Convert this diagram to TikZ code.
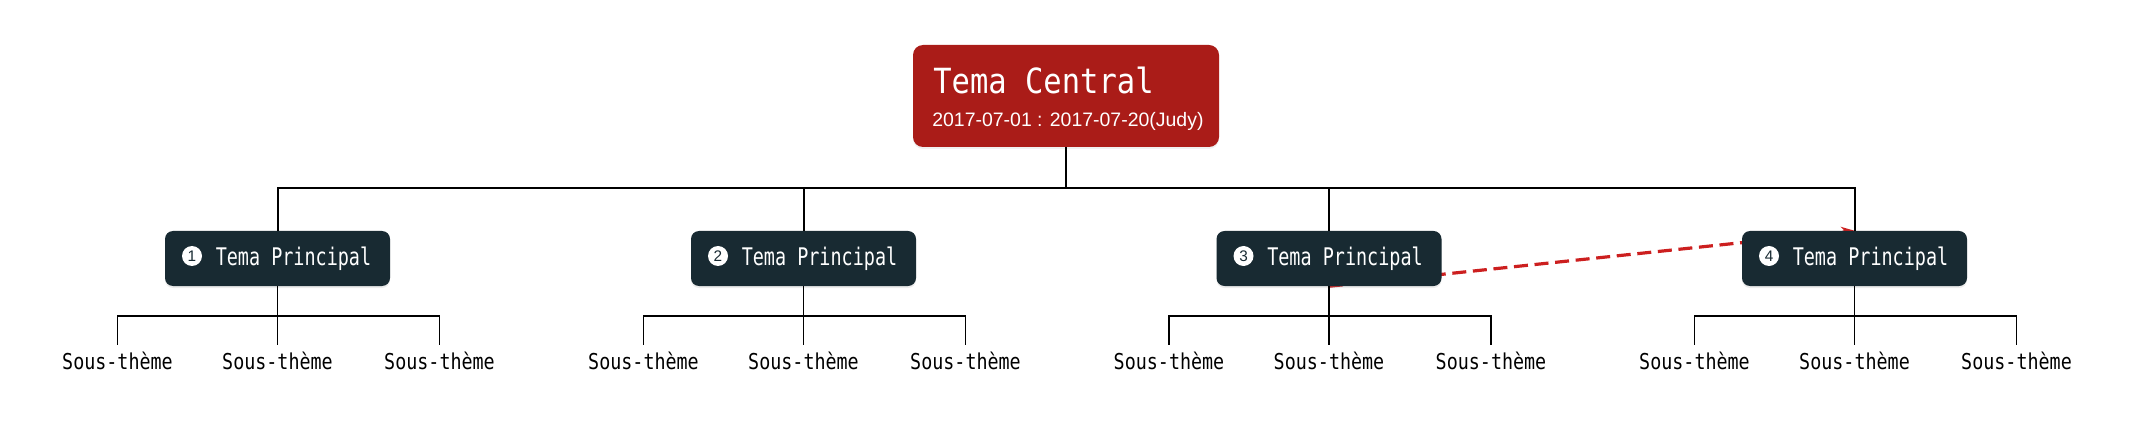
\documentclass[tikz,border=0pt]{standalone}
\usepackage{fontspec}
\setmainfont{Liberation Sans}
\newfontfamily\topicfont[FakeStretch=0.76]{DejaVu Sans Mono}
\newfontfamily\subfont[FakeStretch=0.84]{DejaVu Sans Mono}
\newfontfamily\centralfont[FakeStretch=0.88]{DejaVu Sans Mono}
\usetikzlibrary{backgrounds,shadows,arrows.meta}
\definecolor{cred}{HTML}{AA1C18}
\definecolor{cdark}{HTML}{182A32}
\definecolor{cdash}{HTML}{CC1F1F}
\begin{document}
\begin{tikzpicture}[x=0.75pt,y=-0.75pt,
  centralbox/.style={rectangle, rounded corners=7.5pt, fill=cred, minimum width=229.5pt, minimum height=76.5pt, inner sep=0pt,
    drop shadow={opacity=0.12, shadow xshift=0pt, shadow yshift=-1.5pt}},
  topicbox/.style={rectangle, rounded corners=6pt, fill=cdark, minimum width=168.75pt, minimum height=41.25pt, inner sep=0pt,
    drop shadow={opacity=0.15, shadow xshift=0pt, shadow yshift=-1.5pt}},
  numcircle/.style={circle, fill=white, minimum size=15pt, inner sep=0pt, text=cdark, font=\fontsize{11.5}{12}\selectfont},
  topictext/.style={anchor=base west, inner sep=0pt, text=white, font=\topicfont\fontsize{18.2}{20}\selectfont},
  subtext/.style={anchor=base, inner xsep=0pt, inner ysep=5pt, text=black, font=\subfont\fontsize{16.4}{18}\selectfont},
  mainline/.style={draw=black, line width=1.5pt},
  subline/.style={draw=black, line width=1pt},
  dashline/.style={draw=cdash, line width=2.4pt, dash pattern=on 10.5pt off 5pt, -{Stealth[length=10pt,width=8pt]}}
]
\useasboundingbox (0,0) rectangle (2133,438);

% central topic
\node[centralbox] (c) at (1066,96) {};
\node[anchor=base west, inner sep=0pt, text=white, font=\centralfont\fontsize{26}{30}\selectfont] (ct) at (933,94) {Tema Central};
\node[anchor=base west, inner sep=0pt, text=white, font=\fontsize{14.6}{17}\selectfont] (cd) at (932,127) {2017-07-01 : 2017-07-20(Judy)};
\coordinate (bus) at (0,188);

\foreach \i/\x in {1/277.5, 2/803.5, 3/1329, 4/1854.5}{
  \node[topicbox] (t\i) at (\x,258.5) {};
  \node[numcircle] (n\i) at (\x-85.5,256) {\i};
  \node[topictext] (l\i) at (\x-62,266) {Tema Principal};
  \node[subtext] (sa\i) at (\x-160,369) {Sous-thème};
  \node[subtext] (sm\i) at (\x,369) {Sous-thème};
  \node[subtext] (sc\i) at (\x+162,369) {Sous-thème};
  \coordinate (sb\i) at (\x,316);
  \draw[mainline] (c.south) -- (c.south |- bus) -| (t\i.north);
  \draw[subline] (sa\i.north) |- (sb\i) -| (sc\i.north);
  \draw[subline] (t\i.south) -- (sm\i.north);
}

\begin{pgfonlayer}{background}
  \draw[dashline] (t3.south) -- (t4.north);
\end{pgfonlayer}
\end{tikzpicture}
\end{document}
